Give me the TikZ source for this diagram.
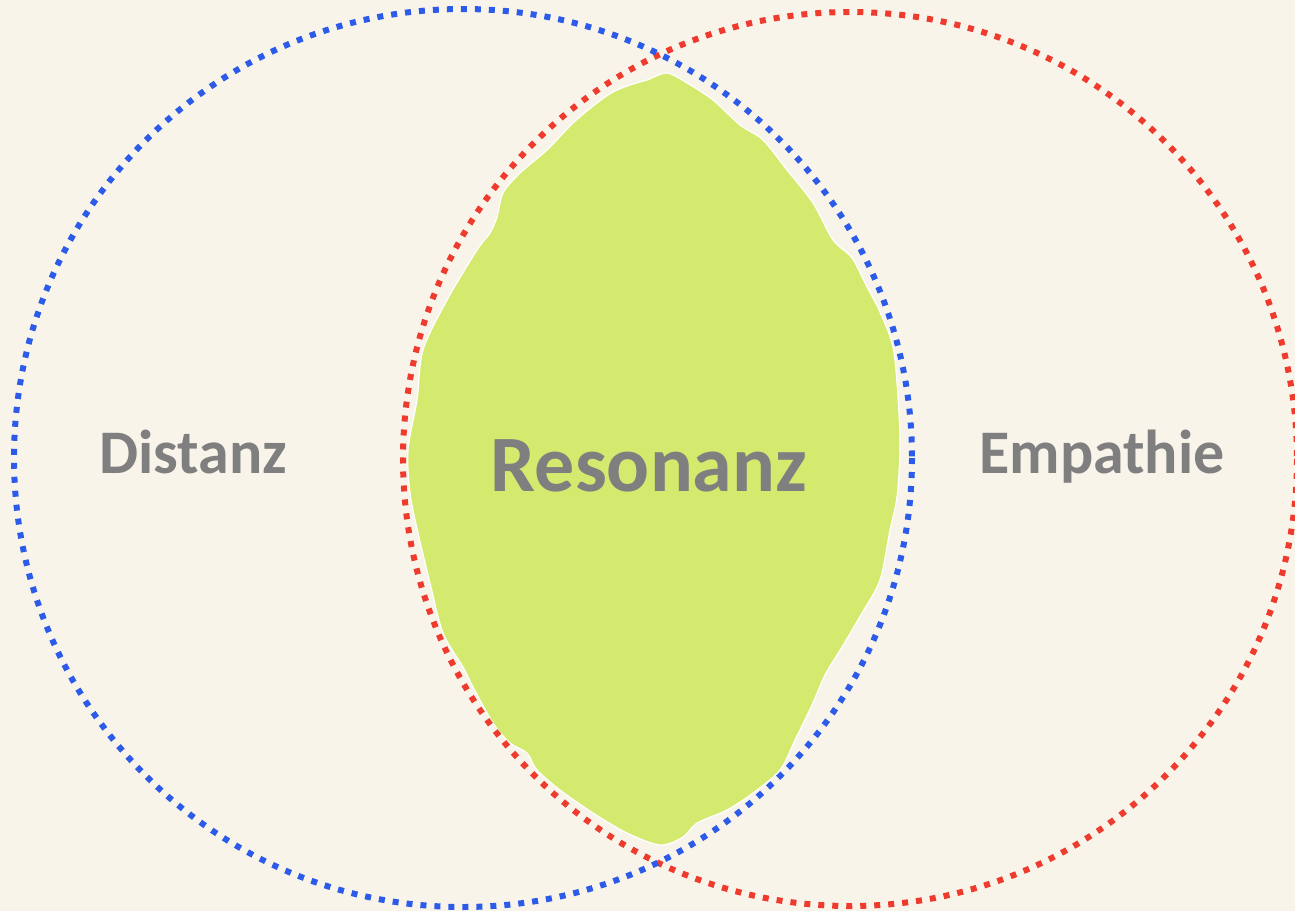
\documentclass[tikz,border=0pt]{standalone}
\usepackage{fontspec}
\setmainfont{Carlito}
\definecolor{cream}{HTML}{F9F4EA}
\definecolor{ringblue}{HTML}{2B5BE8}
\definecolor{ringred}{HTML}{EE3B2E}
\definecolor{lensgreen}{HTML}{D4EA6E}
\definecolor{labelgray}{HTML}{7F7F7F}
\begin{document}
\begin{tikzpicture}[y=1pt, x=1pt, yscale=-1.000000, xscale=1.000000, inner sep=0pt, outer sep=0pt,
  ring/.style={line width=6pt, line cap=butt, dash pattern=on 6pt off 8pt},
  lbl/.style={anchor=base, text=labelgray, font=\bfseries\fontsize{62}{62}\selectfont}]
\path[fill=cream] (0,0) rectangle (1295,911);
\useasboundingbox (0,0) rectangle (1295,911);
% green lens
\path[fill=lensgreen, draw=white, line width=1.2pt] plot[smooth cycle, tension=0.5] coordinates {
  (667,73) (687,83) (713,100) (740,125) (763,140) (787,170) (813,203) (833,240)
  (852,258) (867,287) (880,312) (893,347) (898,397) (900,447) (897,497) (890,530)
  (880,580) (862,613) (842,647) (825,675) (812,705) (795,740) (780,770) (753,793)
  (727,810) (697,823) (683,837) (660,845) (627,833) (593,813) (560,790) (537,770)
  (527,753) (510,743) (493,723) (473,687) (463,667) (443,633) (430,583) (418,533)
  (410,493) (408,450) (417,400) (423,350) (447,300) (477,250) (490,233) (497,217)
  (503,193) (520,173) (547,150) (573,123) (597,103) (613,92) (630,85) (647,80)};
% rings
\path[draw=ringred, ring] (850,459) circle (447);
\path[draw=ringblue, ring] (463,458) circle (449);
% labels
\node[lbl] (distanz) at (193.5,473) {Distanz};
\node[lbl, font=\bfseries\fontsize{80}{80}\selectfont] (resonanz) at (649,491) {Resonanz};
\node[lbl] (empathie) at (1102,473) {Empathie};
\end{tikzpicture}
\end{document}
